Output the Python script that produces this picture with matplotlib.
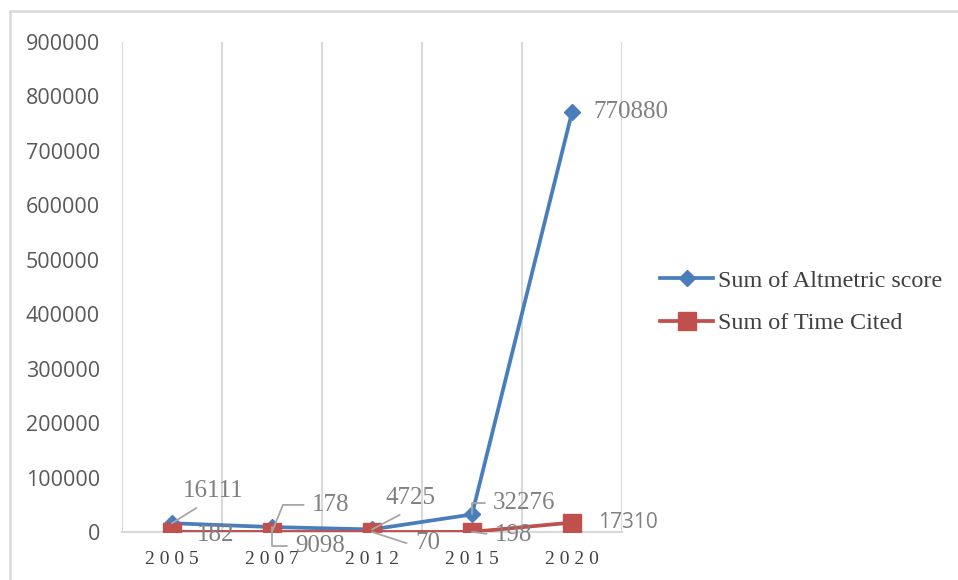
import matplotlib
matplotlib.use("Agg")
import matplotlib.pyplot as plt
from matplotlib.lines import Line2D

# chart data
years = ["2005", "2007", "2012", "2015", "2020"]
altmetric = [16111, 9098, 4725, 32276, 770880]
cited = [182, 178, 70, 198, 17310]
series_names = ["Sum of Altmetric score", "Sum of Time Cited"]

BLUE = "#4a7ebb"
RED = "#c0504d"
GRID = "#d9d9d9"
LABEL = "#808080"

fig = plt.figure(figsize=(9.58, 5.80), dpi=100)
ax = fig.add_axes([122 / 958, 1 - 532 / 580, 500 / 958, 490 / 580])

x = list(range(len(years)))
ax.plot(x, altmetric, color=BLUE, lw=2.7, marker="D", ms=8.5, zorder=3,
        label=series_names[0])
ax.plot(x, cited, color=RED, lw=2.7, marker="s", ms=13, zorder=3,
        label=series_names[1])

ax.set_xlim(-0.5, 4.5)
ax.set_ylim(0, 900000)
ax.set_yticks(range(0, 900001, 100000))
ax.set_yticklabels([str(v) for v in range(0, 900001, 100000)],
                   family="Open Sans", fontsize=15.5, color="#595959")
ax.set_xticks(x)
ax.set_xticklabels([" ".join(y) for y in years], family="Liberation Serif",
                   fontsize=14, color="#404040")
ax.set_xticks([i - 0.5 for i in range(len(years) + 1)], minor=True)
ax.grid(True, which="minor", axis="x", color=GRID, lw=1.5)
ax.tick_params(which="both", length=0)
ax.tick_params(axis="y", pad=16)
ax.tick_params(axis="x", pad=14)
for s in ["top", "right", "left"]:
    ax.spines[s].set_visible(False)
ax.spines["bottom"].set_color(GRID)
ax.spines["bottom"].set_linewidth(1.5)

# data labels: (series, index, dx px, dy px, leader relpos, leader style, font)
lab_layout = [
    (0, 0, 11, 32, (0.37, 0.0), "arc3", "serif"),
    (0, 1, 23, -19, (0.0, 0.5), "angle,angleA=0,angleB=-90,rad=0", "serif"),
    (0, 2, 13, 31, (0.5, 0.0), "arc3", "serif"),
    (0, 3, 21, 11, (0.0, 0.5), "angle,angleA=0,angleB=90,rad=0", "serif"),
    (0, 4, 21, 0, None, None, "serif"),
    (1, 0, 25, -3, None, None, "serif"),
    (1, 1, 40, 27, (0.0, 0.5), "angle,angleA=0,angleB=68,rad=0", "serif"),
    (1, 2, 43, -11, (0.0, 0.5), "angle,angleA=0,angleB=-18,rad=0", "serif"),
    (1, 3, 23, -3, (0.0, 0.5), "arc3", "serif"),
    (1, 4, 26, 0, None, None, "sans"),
]
vals = [altmetric, cited]
for si, i, dx, dy, rp, cs, fnt in lab_layout:
    v = vals[si][i]
    fam = "Liberation Serif" if fnt == "serif" else "Open Sans"
    kw = {}
    if rp is not None:
        kw["arrowprops"] = dict(arrowstyle="-", color="#a6a6a6", lw=1.3,
                                shrinkA=4, shrinkB=0, relpos=rp,
                                connectionstyle=cs)
    ax.annotate(str(v), xy=(i, v), xytext=(dx, dy), textcoords="offset pixels",
                ha="left", va="center", fontsize=18 if fnt == "serif" else 15,
                family=fam, color=LABEL, zorder=4, annotation_clip=False, **kw)

handles = [
    Line2D([], [], color=BLUE, lw=2.7, marker="D", ms=8.5),
    Line2D([], [], color=RED, lw=2.7, marker="s", ms=13),
]
leg = fig.legend(handles, series_names, loc="upper left",
                 bbox_to_anchor=(660 / 958, 1 - 270 / 580), frameon=False,
                 prop={"family": "Liberation Serif", "size": 17.4},
                 handlelength=2.2, handletextpad=0.2, labelspacing=0.85,
                 borderpad=0, borderaxespad=0)
for t in leg.get_texts():
    t.set_color("#404040")

# chart area border (only top and left visible)
fig.add_artist(Line2D([10 / 958, 10 / 958], [0, 1 - 11 / 580],
                      transform=fig.transFigure, color=GRID, lw=1.8))
fig.add_artist(Line2D([10 / 958, 1], [1 - 11 / 580, 1 - 11 / 580],
                      transform=fig.transFigure, color=GRID, lw=1.8))

fig.savefig("out.png", dpi=100)
